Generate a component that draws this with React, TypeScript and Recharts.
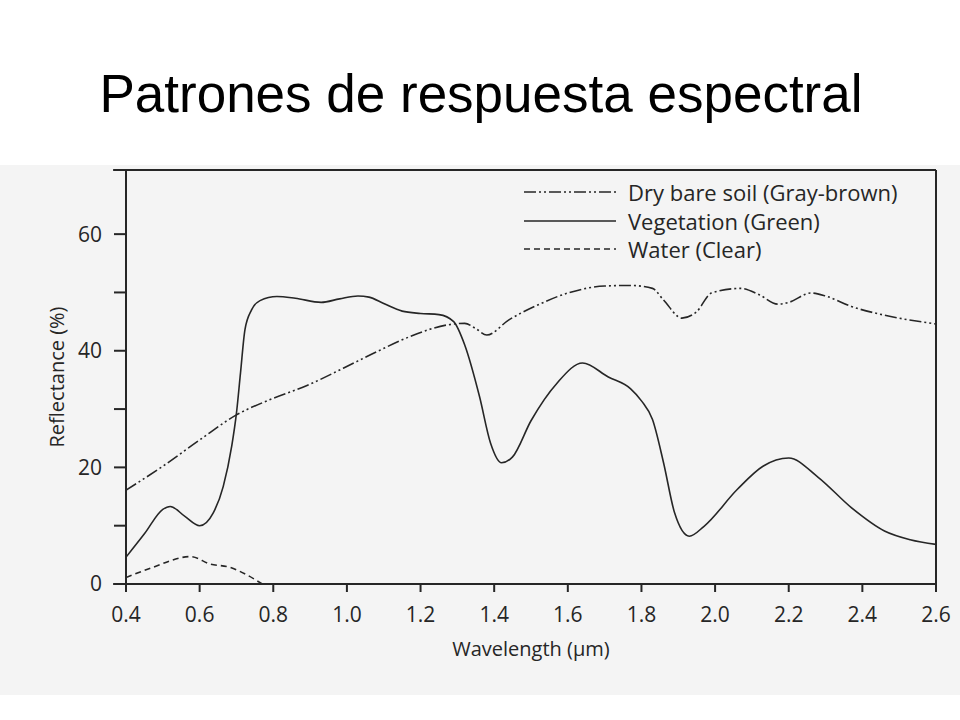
import { LineChart, Line, XAxis, YAxis, ReferenceLine, Legend } from 'recharts';

// readings taken off the scanned figure (wavelength in µm, reflectance in %)
const soilWavelength = [0.4, 0.5, 0.6, 0.7, 0.79, 0.89, 0.99, 1.08, 1.17, 1.27, 1.32, 1.35, 1.38, 1.44, 1.51, 1.6, 1.7, 1.77, 1.83, 1.86, 1.91, 1.95, 1.99, 2.07, 2.12, 2.17, 2.2, 2.26, 2.3, 2.37, 2.46, 2.6];
const soilReflectance = [16.1, 20.2, 24.7, 29.0, 31.6, 34.0, 37.0, 39.8, 42.4, 44.4, 44.7, 43.8, 42.7, 45.3, 47.6, 49.9, 51.1, 51.2, 50.7, 48.7, 45.6, 46.7, 49.9, 50.7, 49.6, 48.0, 48.3, 49.9, 49.4, 47.6, 46.1, 44.6];

const vegWavelength = [0.4, 0.45, 0.5, 0.52, 0.56, 0.6, 0.637, 0.664, 0.687, 0.7, 0.711, 0.723, 0.741, 0.764, 0.81, 0.86, 0.93, 0.98, 1.03, 1.06, 1.1, 1.15, 1.2, 1.25, 1.29, 1.32, 1.36, 1.39, 1.42, 1.45, 1.5, 1.57, 1.64, 1.71, 1.77, 1.8, 1.83, 1.86, 1.89, 1.93, 1.97, 2.06, 2.13, 2.2, 2.28, 2.37, 2.46, 2.53, 2.6];
const vegReflectance = [4.6, 8.6, 12.8, 13.3, 11.6, 10.0, 12.2, 16.7, 23.6, 29.3, 36.2, 43.6, 47.0, 48.6, 49.3, 49.0, 48.3, 48.9, 49.4, 49.2, 48.1, 46.8, 46.4, 46.2, 45.0, 41.0, 32.2, 24.2, 20.8, 21.8, 28.0, 34.4, 37.9, 35.5, 33.5, 31.4, 28.2, 20.8, 12.2, 8.2, 9.9, 16.2, 20.2, 21.6, 18.3, 13.1, 9.1, 7.6, 6.8];

const waterWavelength = [0.4, 0.47, 0.575, 0.63, 0.68, 0.73, 0.77];
const waterReflectance = [1.1, 2.8, 4.7, 3.4, 2.9, 1.5, 0];

const xTicks = [0.4, 0.6, 0.8, 1.0, 1.2, 1.4, 1.6, 1.8, 2.0, 2.2, 2.4, 2.6];
const yTicks = [0, 10, 20, 30, 40, 50, 60];

const INK = '#262626';
const FONT = '"Open Sans", "DejaVu Sans", sans-serif';

function toPoints(xs: number[], ys: number[]) {
  return xs.map((x, i) => ({ x, y: ys[i] }));
}

const series = [
  { name: 'Dry bare soil (Gray-brown)', data: toPoints(soilWavelength, soilReflectance), dash: '12 3 2 3 2 3' },
  { name: 'Vegetation (Green)', data: toPoints(vegWavelength, vegReflectance), dash: undefined },
  { name: 'Water (Clear)', data: toPoints(waterWavelength, waterReflectance), dash: '6 4' },
];

function LegendBox() {
  return (
    <div style={{ fontFamily: FONT, fontSize: 22, color: INK }}>
      {series.map((s) => (
        <div key={s.name} style={{ display: 'flex', alignItems: 'center', height: 28.5 }}>
          <svg width={95} height={10} style={{ marginRight: 10 }}>
            <line x1={1} y1={5} x2={93} y2={5} stroke={INK} strokeWidth={1.6} strokeDasharray={s.dash} />
          </svg>
          <span style={{ lineHeight: '28px' }}>{s.name}</span>
        </div>
      ))}
    </div>
  );
}

export default function App() {
  return (
    <div style={{ position: 'absolute', left: 0, top: 0, width: 960, height: 720, background: '#fff', overflow: 'hidden' }}>
      <div style={{ position: 'absolute', left: 0, top: 165, width: 960, height: 530, background: '#f4f4f4' }} />
      <div
        style={{
          position: 'absolute',
          left: 0,
          top: 68,
          width: 962,
          textAlign: 'center',
          fontFamily: '"Liberation Sans", Arial, sans-serif',
          fontSize: 53,
          lineHeight: '52px',
          color: '#000',
        }}
      >
        Patrones de respuesta espectral
      </div>
      <div style={{ position: 'absolute', left: 0, top: 0 }}>
        <LineChart width={960} height={720} margin={{ top: 170, right: 24, bottom: 106, left: 46 }}>
          <XAxis
            type="number"
            dataKey="x"
            domain={[0.4, 2.6]}
            ticks={xTicks}
            tickFormatter={(v: number) => v.toFixed(1)}
            allowDataOverflow
            height={30}
            tickSize={8}
            tickMargin={15}
            axisLine={{ stroke: INK, strokeWidth: 2 }}
            tickLine={{ stroke: INK, strokeWidth: 2 }}
            tick={{ fill: INK, fontSize: 21, fontFamily: FONT }}
            label={{ value: 'Wavelength (\u03bcm)', position: 'bottom', offset: 28, fill: INK, fontSize: 20, fontFamily: FONT }}
          />
          <YAxis
            type="number"
            domain={[0, 71]}
            ticks={yTicks}
            tickFormatter={(v: number) => (v % 20 === 0 ? String(v) : '')}
            allowDataOverflow
            width={80}
            tickSize={12}
            tickMargin={12}
            axisLine={{ stroke: INK, strokeWidth: 2 }}
            tickLine={{ stroke: INK, strokeWidth: 2 }}
            tick={{ fill: INK, fontSize: 21, fontFamily: FONT }}
            label={{
              value: 'Reflectance (%)',
              angle: -90,
              position: 'insideLeft',
              offset: 11,
              fill: INK,
              fontSize: 20,
              fontFamily: FONT,
              style: { textAnchor: 'middle' },
            }}
          />
          <ReferenceLine segment={[{ x: 0.365, y: 71 }, { x: 2.6, y: 71 }]} ifOverflow="visible" stroke={INK} strokeWidth={2} />
          <ReferenceLine x={2.6} stroke={INK} strokeWidth={2} />
          <ReferenceLine segment={[{ x: 0.365, y: 0 }, { x: 0.4, y: 0 }]} ifOverflow="visible" stroke={INK} strokeWidth={2} />
          <Legend
            layout="vertical"
            align="center"
            verticalAlign="middle"
            content={() => <LegendBox />}
            wrapperStyle={{ left: 523, top: 178, width: 'auto' }}
          />
          {series.map((s) => (
            <Line
              key={s.name}
              data={s.data}
              dataKey="y"
              name={s.name}
              type="monotone"
              stroke={INK}
              strokeWidth={1.6}
              strokeDasharray={s.dash}
              dot={false}
              activeDot={false}
              isAnimationActive={false}
            />
          ))}
        </LineChart>
      </div>
    </div>
  );
}
